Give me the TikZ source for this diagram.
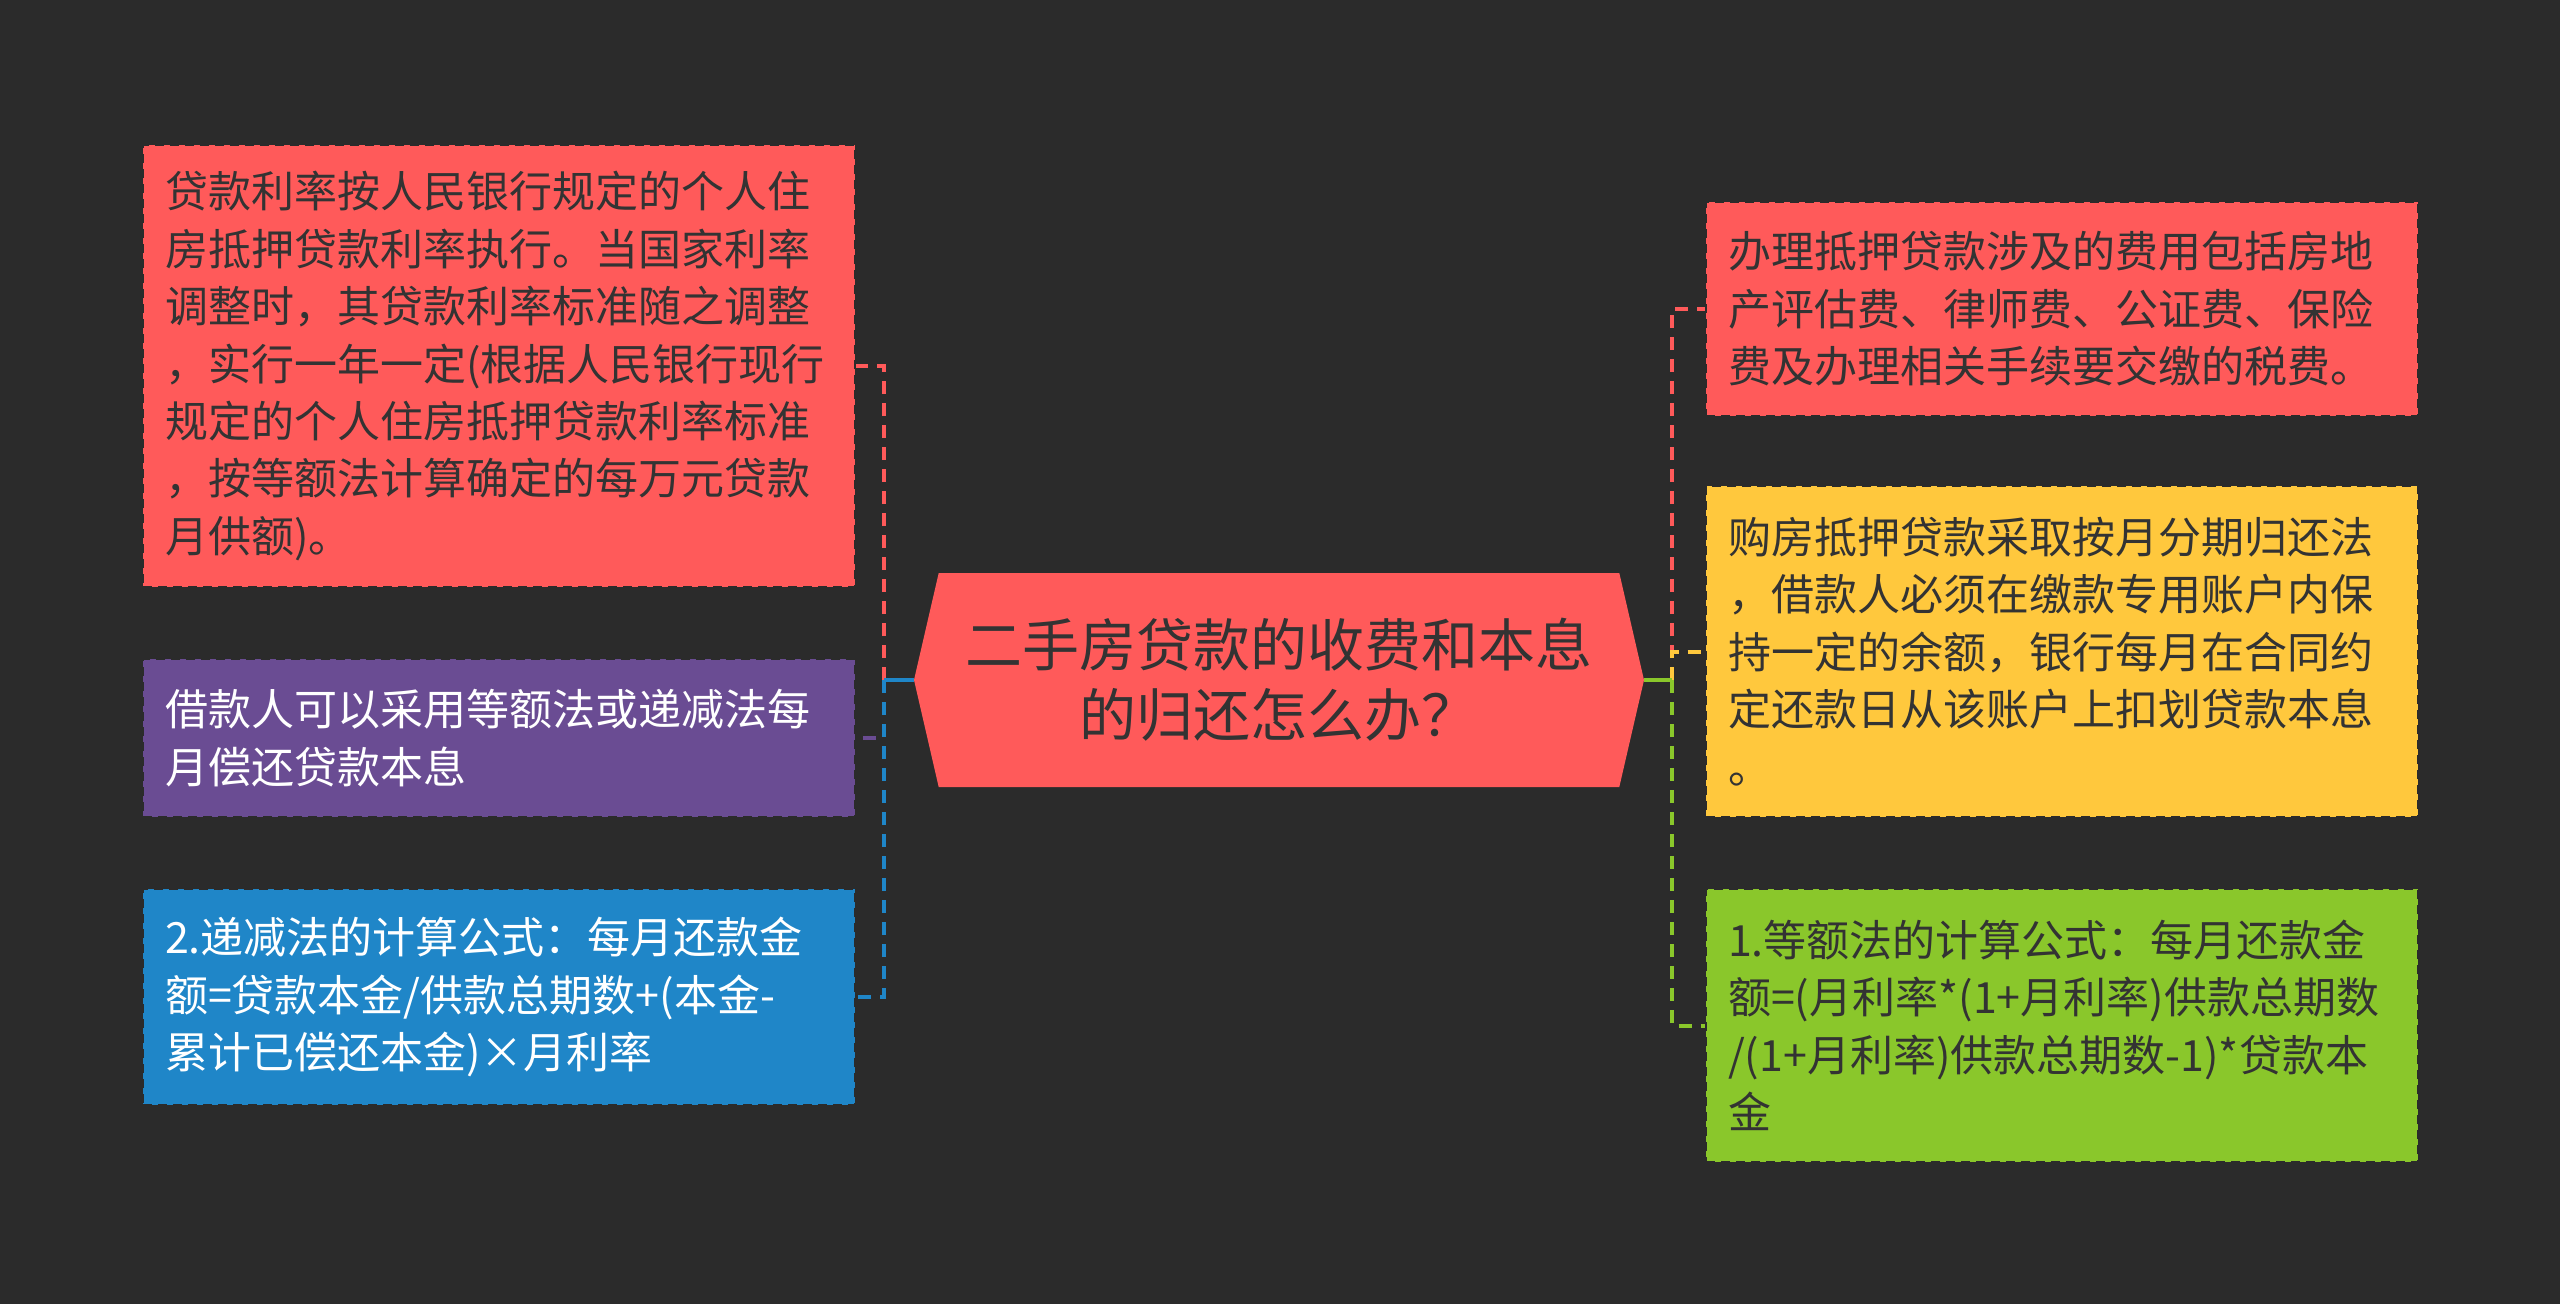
\documentclass[tikz,border=0pt]{standalone}
\usepackage{fontspec}
\setmainfont{Noto Sans CJK SC}
\usetikzlibrary{shapes.symbols}
\definecolor{bgdark}{HTML}{2B2B2B}
\definecolor{mapred}{HTML}{FF5A5A}
\definecolor{mappurple}{HTML}{6A4C93}
\definecolor{mapblue}{HTML}{1F86C8}
\definecolor{mapyellow}{HTML}{FFC83D}
\definecolor{mapgreen}{HTML}{8AC72B}
\definecolor{textdark}{HTML}{333333}
\newcommand{\leafFont}{\fontsize{43}{57.4}\selectfont}
\newcommand{\rootFont}{\fontsize{57}{70}\selectfont}

\begin{document}
\begin{tikzpicture}[x=1pt,y=-1pt,
  leaf/.style={anchor=north west, text width=668pt, inner xsep=22pt, inner ysep=0pt, align=left, font=\leafFont, draw=bgdark, dash pattern=on 9pt off 6pt, line width=2pt},
  link/.style={line width=4pt, dash pattern=on 13pt off 9pt},
  stem/.style={line width=4pt}]
\useasboundingbox (0,0) rectangle (2560,1304);
\fill[bgdark] (0,0) rectangle (2560,1304);
% centre topic
\node[signal, signal to=west and east, signal pointer angle=154, fill=mapred, minimum width=730pt, minimum height=214pt, inner sep=0pt, align=center, text=textdark, font=\rootFont] (root) at (1279,680) {二手房贷款的收费和本息\\的归还怎么办？};
% left branches
\node[leaf, fill=mapred, text=textdark, minimum height=442pt] (l1) at (142,144) {贷款利率按人民银行规定的个人住\\房抵押贷款利率执行。当国家利率\\调整时，其贷款利率标准随之调整\\，实行一年一定(根据人民银行现行\\规定的个人住房抵押贷款利率标准\\，按等额法计算确定的每万元贷款\\月供额)。};
\node[leaf, fill=mappurple, text=white, minimum height=158pt] (l2) at (142,658) {借款人可以采用等额法或递减法每\\月偿还贷款本息};
\node[leaf, fill=mapblue, text=white, minimum height=216pt] (l3) at (142,888) {2.递减法的计算公式：每月还款金\\额=贷款本金/供款总期数+(本金-\\累计已偿还本金)×月利率};
% right branches
\node[leaf, fill=mapred, text=textdark, minimum height=214pt] (r1) at (1705,201) {办理抵押贷款涉及的费用包括房地\\产评估费、律师费、公证费、保险\\费及办理相关手续要交缴的税费。};
\node[leaf, fill=mapyellow, text=textdark, minimum height=331pt] (r2) at (1705,485) {购房抵押贷款采取按月分期归还法\\，借款人必须在缴款专用账户内保\\持一定的余额，银行每月在合同约\\定还款日从该账户上扣划贷款本息\\。};
\node[leaf, fill=mapgreen, text=textdark, minimum height=273pt] (r3) at (1705,888) {1.等额法的计算公式：每月还款金\\额=(月利率*(1+月利率)供款总期数\\/(1+月利率)供款总期数-1)*贷款本\\金};
% connectors
\coordinate (ljoin) at (884,680);
\coordinate (rjoin) at (1672,680);
\draw[link, mapred] (ljoin) |- (l1.east);
\draw[link, mappurple] (ljoin) |- (l2.east);
\draw[link, mapblue] (ljoin) |- (l3.east);
\draw[stem, mapblue] (root.west) -- (ljoin);
\draw[link, mapred] (rjoin) |- (r1.west);
\draw[link, mapyellow] (rjoin) |- (r2.west);
\draw[link, mapgreen] (rjoin) |- (r3.west);
\draw[stem, mapgreen] (root.east) -- (rjoin);
\end{tikzpicture}
\end{document}
